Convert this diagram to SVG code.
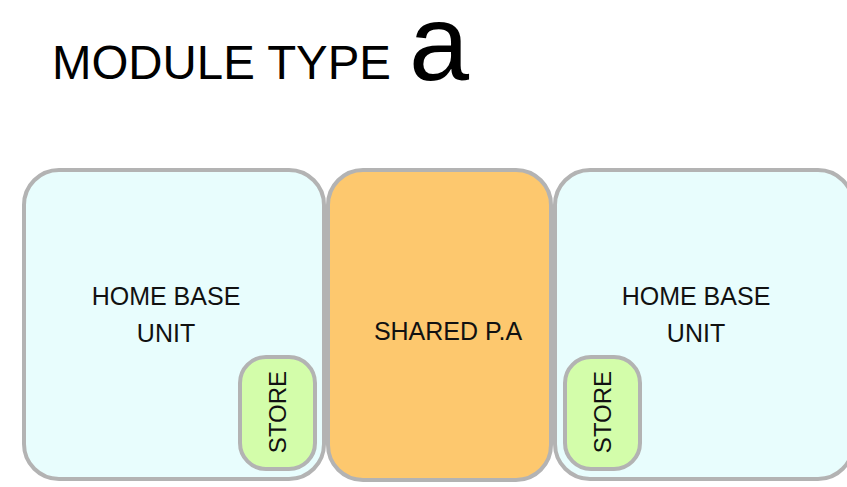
<svg xmlns="http://www.w3.org/2000/svg" width="847" height="487" viewBox="0 0 847 487">
<style>
.box{stroke:#b3b3b3;stroke-width:4}
.home{fill:#e8fdfd}
.pa{fill:#fdc86e}
.store{fill:#d3fdaa}
.t{font-family:"Liberation Sans",Arial,sans-serif;fill:#111;font-size:25px;text-anchor:middle}
.st{font-family:"Liberation Sans",Arial,sans-serif;fill:#111;font-size:24px;text-anchor:middle}
</style>
<rect width="847" height="487" fill="#ffffff"/>
<g id="title">
<text x="52" y="79" font-family="Liberation Sans, Arial, sans-serif" font-size="48" fill="#000" textLength="339" lengthAdjust="spacingAndGlyphs">MODULE TYPE</text>
<text x="409" y="80" font-family="Liberation Sans, Arial, sans-serif" font-size="108" fill="#000">a</text>
</g>
<g id="home-left">
<rect class="box home" x="24" y="170" width="300" height="309" rx="35"/>
<text class="t" x="166" y="305">HOME BASE</text>
<text class="t" x="166" y="342">UNIT</text>
</g>
<g id="store-left">
<rect class="box store" x="240" y="357" width="75" height="112" rx="26"/>
<text class="st" transform="translate(286,412) rotate(-90)">STORE</text>
</g>
<g id="shared-pa">
<rect class="box pa" x="328" y="170" width="223" height="310" rx="35"/>
<text class="t" x="448" y="340">SHARED P.A</text>
</g>
<g id="home-right">
<rect class="box home" x="555" y="170" width="298" height="309" rx="35"/>
<text class="t" x="696" y="305">HOME BASE</text>
<text class="t" x="696" y="342">UNIT</text>
</g>
<g id="store-right">
<rect class="box store" x="565" y="357" width="75" height="112" rx="26"/>
<text class="st" transform="translate(611,412) rotate(-90)">STORE</text>
</g>
<g id="connectors"></g>
</svg>
